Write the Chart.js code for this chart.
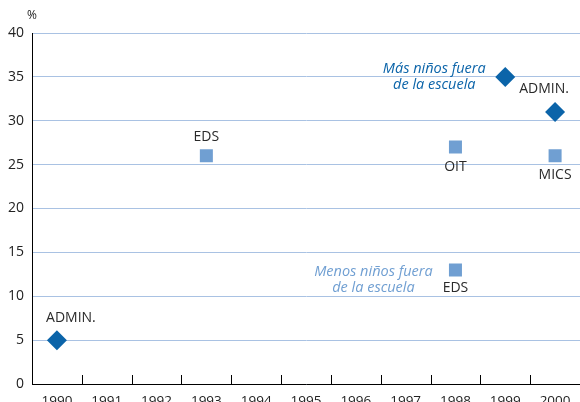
<!DOCTYPE html>
<html>
<head>
<meta charset="utf-8">
<script src="https://cdn.jsdelivr.net/npm/chart.js@4/dist/chart.umd.min.js"></script>
<style>
  html, body { margin: 0; padding: 0; background: #fff; overflow: hidden; }
  #wrap { width: 580px; height: 420px; }
</style>
</head>
<body>
<div id="wrap"><canvas id="chart" width="580" height="420"></canvas></div>
<script>
/* Niños fuera de la escuela — puntos por fuente */

// ── Data ──────────────────────────────────────────────────
const years = ["1990", "1991", "1992", "1993", "1994", "1995", "1996", "1997", "1998", "1999", "2000"];

const masYears  = ["1990", "1999", "2000"];
const masValues = [5, 35, 31];
const masNotes  = ["ADMIN.", "", "ADMIN."];

const menosYears  = ["1993", "1998", "1998", "2000"];
const menosValues = [26, 27, 13, 26];
const menosNotes  = ["EDS", "OIT", "EDS", "MICS"];

const masCaption   = ["Más niños fuera", "de la escuela"];
const menosCaption = ["Menos niños fuera", "de la escuela"];

// ── Styles ────────────────────────────────────────────────
const DARK  = "#0b64a9";
const LIGHT = "#709fd2";
const GRID  = "#a9c2e3";
const FONT  = "'Open Sans', 'DejaVu Sans', sans-serif";

// label offsets from each point (px)
const masNoteOff   = [[14, -22], [0, 0], [-11, -23]];
const menosNoteOff = [[0, -19], [0, 20], [0, 18], [0, 19]];
const masCapOff    = { idx: 1, dx: -71, dy: -8 };
const menosCapOff  = { idx: 2, dx: -82, dy: 2 };

// ── Plugin: notes, captions, upward ticks ─────────────────
const notesPlugin = {
  id: "notes",
  afterDatasetsDraw(chart) {
    const ctx = chart.ctx;
    const xs = chart.scales.x;
    const area = chart.chartArea;

    // tick marks pointing up, between categories
    ctx.save();
    ctx.strokeStyle = "#000";
    ctx.lineWidth = 1;
    for (let i = 1; i < years.length; i++) {
      const x = Math.round((xs.getPixelForValue(i - 1) + xs.getPixelForValue(i)) / 2) + 0.5;
      ctx.beginPath();
      ctx.moveTo(x, area.bottom);
      ctx.lineTo(x, area.bottom - 9);
      ctx.stroke();
    }

    // "%" unit
    ctx.fillStyle = "#222";
    ctx.font = "12px " + FONT;
    ctx.textAlign = "center";
    ctx.textBaseline = "middle";
    ctx.fillText("%", 32, 16);

    // point notes
    ctx.font = "14px " + FONT;
    const drawNotes = (dsIndex, notes, offs) => {
      chart.getDatasetMeta(dsIndex).data.forEach((pt, i) => {
        if (!notes[i]) return;
        ctx.fillText(notes[i], pt.x + offs[i][0], pt.y + offs[i][1]);
      });
    };
    ctx.fillStyle = "#2a2a2a";
    drawNotes(0, menosNotes, menosNoteOff);
    drawNotes(1, masNotes, masNoteOff);

    // italic captions
    ctx.font = "italic 14.5px " + FONT;
    const mp = chart.getDatasetMeta(1).data[masCapOff.idx];
    ctx.fillStyle = DARK;
    ctx.fillText(masCaption[0], mp.x + masCapOff.dx, mp.y + masCapOff.dy);
    ctx.fillText(masCaption[1], mp.x + masCapOff.dx, mp.y + masCapOff.dy + 16);

    const lp = chart.getDatasetMeta(0).data[menosCapOff.idx];
    ctx.fillStyle = LIGHT;
    ctx.fillText(menosCaption[0], lp.x + menosCapOff.dx, lp.y + menosCapOff.dy);
    ctx.fillText(menosCaption[1], lp.x + menosCapOff.dx, lp.y + menosCapOff.dy + 16);
    ctx.restore();
  }
};

// ── Chart ─────────────────────────────────────────────────
new Chart(document.getElementById("chart").getContext("2d"), {
  type: "line",
  data: {
    labels: years,
    datasets: [
      {
        label: "Menos niños fuera de la escuela",
        data: menosYears.map((y, i) => ({ x: y, y: menosValues[i] })),
        showLine: false,
        pointStyle: "rect",
        pointRadius: 9.2,
        pointBorderWidth: 0,
        pointBackgroundColor: LIGHT,
        pointBorderColor: LIGHT,
      },
      {
        label: "Más niños fuera de la escuela",
        data: masYears.map((y, i) => ({ x: y, y: masValues[i] })),
        showLine: false,
        pointStyle: "rectRot",
        pointRadius: 10,
        pointBorderWidth: 0,
        pointBackgroundColor: DARK,
        pointBorderColor: DARK,
      }
    ]
  },
  options: {
    responsive: false,
    animation: false,
    layout: { autoPadding: false, padding: { top: 33, left: 0, right: 0, bottom: 0 } },
    plugins: { legend: { display: false }, tooltip: { enabled: false } },
    scales: {
      x: {
        type: "category",
        offset: true,
        grid: { display: false },
        border: { display: true, color: "#000", width: 1 },
        ticks: { color: "#222", font: { family: FONT, size: 13.5 }, padding: 1, maxRotation: 0, autoSkip: false },
        afterFit: s => { s.height = 36; s.paddingLeft = 0; s.paddingRight = 0; }
      },
      y: {
        min: 0, max: 40,
        ticks: { stepSize: 5, color: "#222", font: { family: FONT, size: 14 }, padding: 8 },
        grid: { color: GRID, lineWidth: 1, drawTicks: false },
        border: { display: true, color: "#000", width: 1 },
        afterFit: s => { s.width = 32; }
      }
    }
  },
  plugins: [notesPlugin]
});
</script>
</body>
</html>
